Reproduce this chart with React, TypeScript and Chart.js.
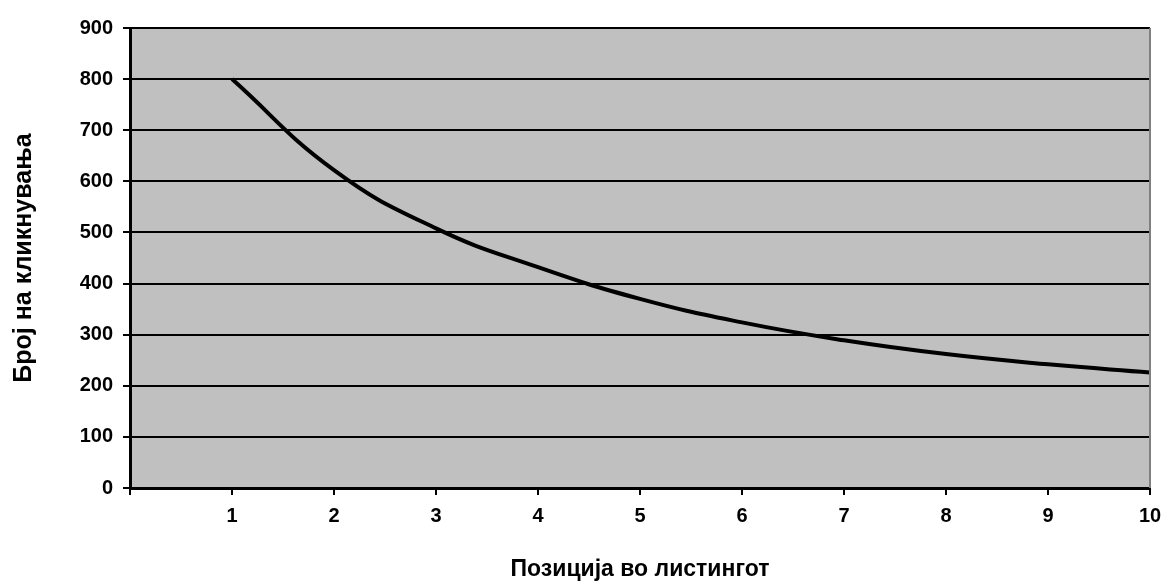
import React, { useEffect, useRef } from "react";
import { Chart, registerables } from "chart.js";

Chart.register(...registerables);

const positions = [1, 2, 3, 4, 5, 6, 7, 8, 9, 10];
const clicks = [800, 622, 508, 432, 370, 324, 289, 262, 242, 226];
const xTitle = "Позиција во листингот";
const yTitle = "Број на кликнувања";

const FONT = "Liberation Sans, Arial, sans-serif";

const plotBg = {
  id: "plotBg",
  beforeDraw(chart: any) {
    const { ctx, chartArea } = chart;
    ctx.save();
    ctx.fillStyle = "#c0c0c0";
    ctx.fillRect(chartArea.left, chartArea.top, chartArea.right - chartArea.left, chartArea.bottom - chartArea.top);
    ctx.restore();
  },
  afterDraw(chart: any) {
    const { ctx, chartArea } = chart;
    ctx.save();
    ctx.strokeStyle = "#808080";
    ctx.lineWidth = 2;
    ctx.beginPath();
    ctx.moveTo(chartArea.right, chartArea.top);
    ctx.lineTo(chartArea.right, chartArea.bottom);
    ctx.stroke();
    ctx.restore();
  },
};

export default function App() {
  const ref = useRef<HTMLCanvasElement | null>(null);
  useEffect(() => {
    if (!ref.current) return;
    const chart = new Chart(ref.current, {
      type: "line",
      data: {
        datasets: [
          {
            data: positions.map((x, i) => ({ x, y: clicks[i] })),
            borderColor: "#000000",
            borderWidth: 4,
            pointRadius: 0,
            tension: 0.45,
            fill: false,
          },
        ],
      },
      options: {
        animation: false,
        responsive: false,
        devicePixelRatio: 1,
        layout: { padding: { top: 28, right: 14, left: 0, bottom: 0 } },
        plugins: { legend: { display: false }, tooltip: { enabled: false } },
        scales: {
          x: {
            type: "linear",
            min: 0,
            max: 10,
            afterFit(scale: any) {
              scale.height = 93;
              scale.paddingLeft = 0;
              scale.paddingRight = 0;
            },
            ticks: {
              stepSize: 1,
              color: "#000",
              padding: 9,
              font: { family: FONT, size: 20, weight: "bold" },
              callback: (v: any) => (v === 0 ? "" : String(v)),
            },
            grid: { drawOnChartArea: false, drawTicks: true, tickLength: 7, color: "#000", lineWidth: 2 },
            border: { display: true, color: "#000", width: 3 },
            title: {
              display: true,
              text: xTitle,
              color: "#000",
              padding: 0,
              font: { family: FONT, size: 23, weight: "bold", lineHeight: 1 },
            },
          },
          y: {
            min: 0,
            max: 900,
            afterFit(scale: any) {
              scale.width = 130;
              scale.paddingTop = 0;
              scale.paddingBottom = 0;
            },
            ticks: {
              stepSize: 100,
              color: "#000",
              padding: 10,
              font: { family: FONT, size: 20, weight: "bold" },
            },
            grid: { color: "#000", lineWidth: 2, drawTicks: true, tickLength: 7 },
            border: { display: true, color: "#000", width: 3 },
            title: {
              display: true,
              text: yTitle,
              color: "#000",
              padding: 9,
              font: { family: FONT, size: 25, weight: "bold" },
            },
          },
        },
      },
      plugins: [plotBg],
    } as any);
    return () => chart.destroy();
  }, []);
  return (
    <div style={{ position: "fixed", left: 0, top: 0, width: 1164, height: 581, background: "#fff" }}>
      <canvas ref={ref} width={1164} height={581} style={{ width: 1164, height: 581 }} />
    </div>
  );
}
